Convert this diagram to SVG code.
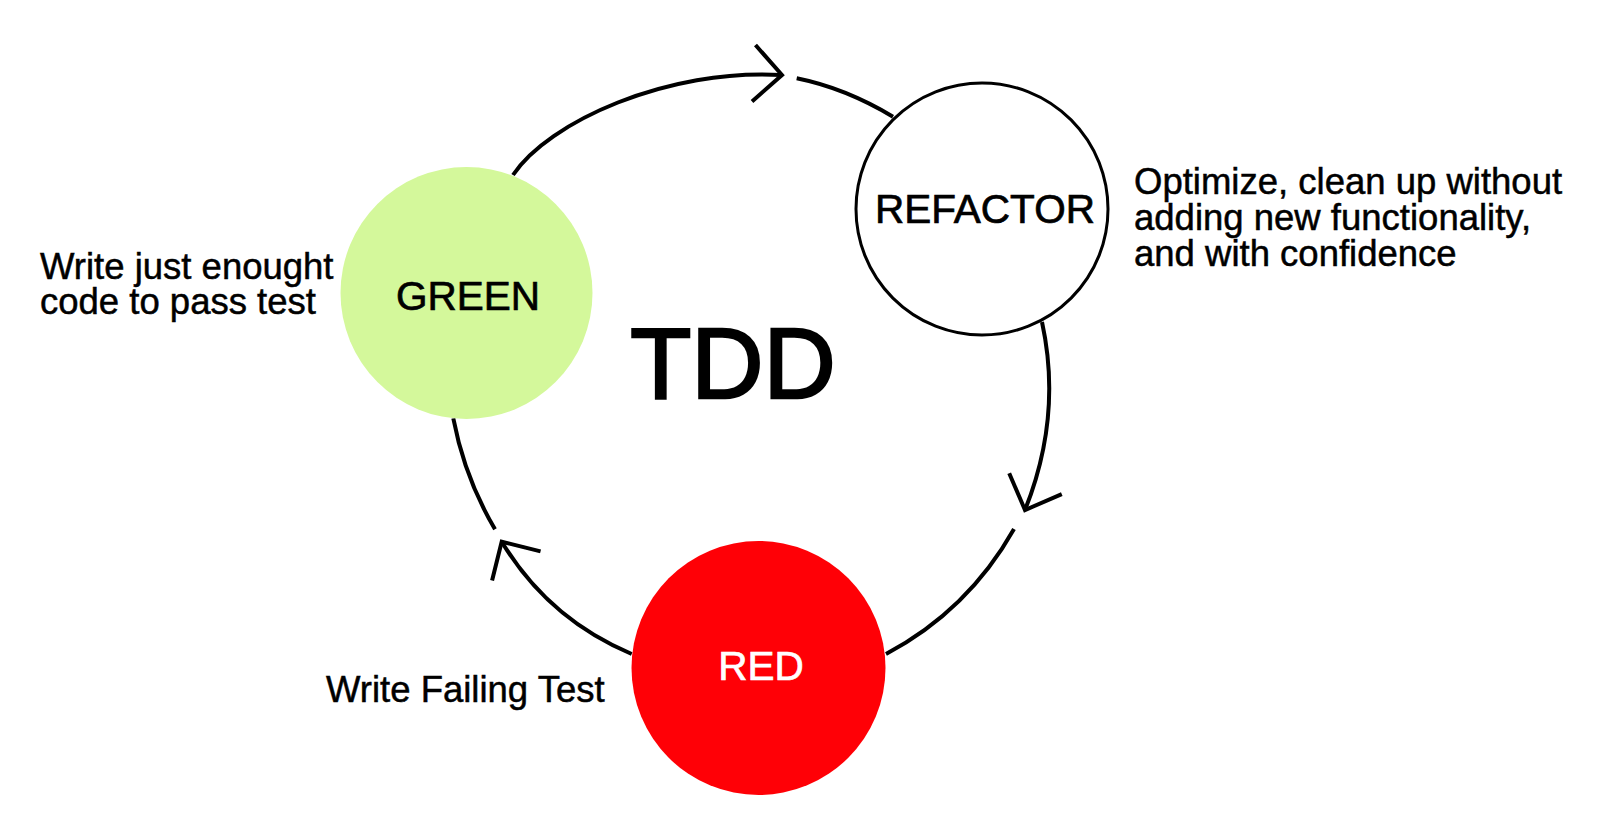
<svg xmlns="http://www.w3.org/2000/svg" width="1600" height="840" viewBox="0 0 1600 840">
<style>
  .conn { fill: none; stroke: #000; stroke-width: 4; stroke-linecap: butt; }
  .lbl { font-family: "Liberation Sans", Arial, Helvetica, sans-serif; fill: #000; }
  .node-text { font-family: "Liberation Sans", Arial, Helvetica, sans-serif; font-size: 40.5px; text-anchor: middle; stroke-width: 0.7; }
  .desc { font-family: "Liberation Sans", Arial, Helvetica, sans-serif; font-size: 36.5px; fill: #000; stroke: #000; stroke-width: 0.5; }
</style>
<defs>
  <marker id="chev" markerUnits="userSpaceOnUse" viewBox="-40 -40 60 80" markerWidth="60" markerHeight="80" refX="0" refY="0" orient="auto" overflow="visible">
    <path d="M -28.3 -28.3 L 0 0 L -28.3 28.3" fill="none" stroke="#000" stroke-width="4"/>
  </marker>
</defs>
<rect width="1600" height="840" fill="#fff"/>
<g id="connectors">
  <path class="conn" d="M 513 175 C 548 122 668 68 782 75" marker-end="url(#chev)"/>
  <path class="conn" d="M 796.7 78.3 Q 845 88 893 116.7"/>
  <path class="conn" d="M 1042 322 Q 1062.5 416 1025 510" marker-end="url(#chev)"/>
  <path class="conn" d="M 1014 529 Q 968 610.5 886 654"/>
  <path class="conn" d="M 631.7 654 Q 548.3 619 501.7 541.7" marker-end="url(#chev)"/>
  <path class="conn" d="M 495 529.3 Q 464.6 477.6 453.3 418.3"/>
</g>
<g id="green">
  <circle cx="466.5" cy="293" r="126" fill="#d4f89b"/>
  <text class="node-text" x="468" y="310" fill="#000" stroke="#000">GREEN</text>
</g>
<g id="refactor">
  <circle cx="982" cy="209" r="126" fill="#fff" stroke="#000" stroke-width="3"/>
  <text class="node-text" x="985" y="223" fill="#000" stroke="#000">REFACTOR</text>
</g>
<g id="red">
  <circle cx="758.5" cy="668" r="127" fill="#ff0006"/>
  <text class="node-text" x="761" y="680" fill="#fff" stroke="#fff">RED</text>
</g>
<g id="title">
  <text class="lbl" x="733" y="398" font-size="100" text-anchor="middle" stroke="#000" stroke-width="2.5">TDD</text>
</g>
<g id="green-desc">
  <text class="desc" x="40" y="279">Write just enought</text>
  <text class="desc" x="40" y="314">code to pass test</text>
</g>
<g id="refactor-desc">
  <text class="desc" x="1134" y="194">Optimize, clean up without</text>
  <text class="desc" x="1134" y="230">adding new functionality,</text>
  <text class="desc" x="1134" y="266">and with confidence</text>
</g>
<g id="red-desc">
  <text class="desc" x="326" y="702">Write Failing Test</text>
</g>
</svg>
